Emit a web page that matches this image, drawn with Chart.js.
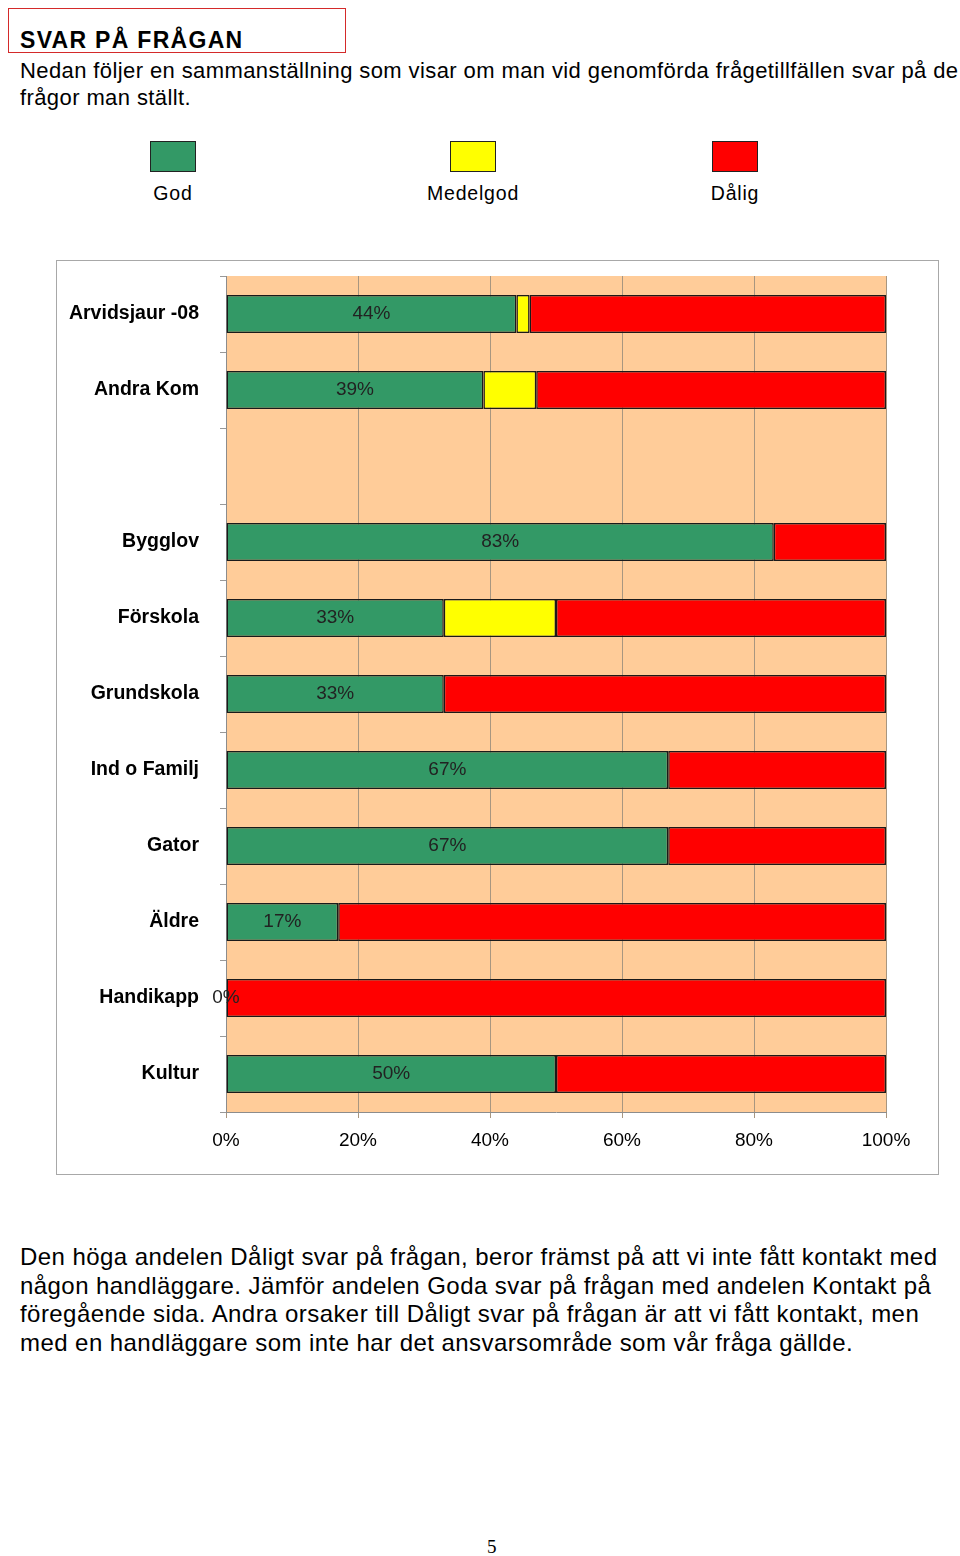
<!DOCTYPE html>
<html>
<head>
<meta charset="utf-8">
<script src="https://cdn.jsdelivr.net/npm/chart.js@4"></script>
<style>
  body { margin: 0; width: 960px; height: 1556px; background: #fff; font-family: "Liberation Sans", Arial, sans-serif; color: #000; position: relative; }
  .abs { position: absolute; white-space: nowrap; }
  #titlebox { left: 8px; top: 8px; width: 336px; height: 43px; border: 1.5px solid #d42a2a; }
  #title { left: 20px; top: 27px; font-size: 23px; font-weight: bold; letter-spacing: 1.3px; }
  .txt { font-size: 22px; line-height: 27px; letter-spacing: 0.4px; }
  .legsq { width: 44px; height: 29px; border: 1px solid #222; }
  .leglab { font-size: 19.5px; letter-spacing: 0.8px; transform: translateX(-50%); }
  #box { left: 56px; top: 260px; width: 881px; height: 913px; border: 1px solid #a8a8a8; }
  #page { left: 487px; top: 1536px; font-family: "Liberation Serif", serif; font-size: 19px; }
</style>
</head>
<body>
<div class="abs" id="titlebox"></div>
<div class="abs" id="title">SVAR PÅ FRÅGAN</div>
<div class="abs txt" style="left:20px; top:57px;">Nedan följer en sammanställning som visar om man vid genomförda frågetillfällen svar på de<br>frågor man ställt.</div>
<div id="legend"></div>
<div class="abs" id="box"><canvas id="c" width="881" height="913"></canvas></div>
<div class="abs txt" style="left:20px; top:1243px; font-size:24px; line-height:28.7px; letter-spacing:0.44px;">Den höga andelen Dåligt svar på frågan, beror främst på att vi inte fått kontakt med<br>någon handläggare. Jämför andelen Goda svar på frågan med andelen Kontakt på<br>föregående sida. Andra orsaker till Dåligt svar på frågan är att vi fått kontakt, men<br>med en handläggare som inte har det ansvarsområde som vår fråga gällde.</div>
<div class="abs" id="page">5</div>
<script>
var categories = ["Arvidsjaur -08", "Andra Kom", "", "Bygglov", "Förskola", "Grundskola", "Ind o Familj", "Gator", "Äldre", "Handikapp", "Kultur"];
var seriesNames = ["God", "Medelgod", "Dålig"];
var seriesColors = ["#339966", "#ffff00", "#ff0000"];
var god      = [44, 39, null, 83, 33, 33, 67, 67, 17, 0, 50];
var medelgod = [2, 8, null, null, 17, null, null, null, null, null, null];
var dalig    = [54, 53, null, 17, 50, 67, 33, 33, 83, 100, 50];
var xTicks = [0, 20, 40, 60, 80, 100];

// legend above the chart box (html)
var legX = [150, 450, 712];
var leg = document.getElementById('legend');
seriesNames.forEach(function (n, i) {
  var sq = document.createElement('div');
  sq.className = 'abs legsq';
  sq.style.left = legX[i] + 'px';
  sq.style.top = '141px';
  sq.style.background = seriesColors[i];
  leg.appendChild(sq);
  var lb = document.createElement('div');
  lb.className = 'abs leglab';
  lb.style.left = (legX[i] + 23) + 'px';
  lb.style.top = '182px';
  lb.textContent = n;
  leg.appendChild(lb);
});

var plotBg = {
  id: 'plotBg',
  beforeDraw: function (chart) {
    var a = chart.chartArea, ctx = chart.ctx;
    ctx.save();
    ctx.fillStyle = '#ffcc99';
    ctx.fillRect(a.left, a.top, a.right - a.left, a.bottom - a.top);
    ctx.restore();
  }
};

var godLabels = {
  id: 'godLabels',
  afterDatasetsDraw: function (chart) {
    var ctx = chart.ctx;
    var meta = chart.getDatasetMeta(0);
    ctx.save();
    ctx.font = '19px "Liberation Sans", Arial, sans-serif';
    ctx.fillStyle = '#222';
    ctx.textAlign = 'center';
    ctx.textBaseline = 'middle';
    meta.data.forEach(function (el, i) {
      if (god[i] === null) return;
      ctx.fillText(Math.round(god[i]) + '%', (el.x + el.base) / 2, el.y);
    });
    ctx.restore();
  }
};

var datasets = [god, medelgod, dalig].map(function (d, i) {
  return {
    label: seriesNames[i],
    data: d,
    backgroundColor: seriesColors[i],
    borderColor: '#1a1a1a',
    borderWidth: 1.5,
    borderSkipped: false,
    barPercentage: 0.5,
    categoryPercentage: 1.0
  };
});

new Chart(document.getElementById('c'), {
  type: 'bar',
  data: { labels: categories, datasets: datasets },
  plugins: [plotBg, godLabels],
  options: {
    indexAxis: 'y',
    responsive: false,
    animation: false,
    layout: { padding: { left: 0, right: 52, top: 15, bottom: 0 } },
    plugins: { legend: { display: false }, tooltip: { enabled: false } },
    scales: {
      x: {
        stacked: true,
        min: 0,
        max: 100,
        afterBuildTicks: function (s) { s.ticks = xTicks.map(function (v) { return { value: v }; }); },
        afterFit: function (s) { s.height = 62; },
        ticks: {
          callback: function (v) { return v + '%'; },
          color: '#000',
          font: { family: '"Liberation Sans", Arial, sans-serif', size: 19 },
          padding: 11,
          maxRotation: 0
        },
        grid: { color: '#a89680', lineWidth: 1, tickLength: 6, drawTicks: true },
        border: { display: true, color: '#8c8c8c' }
      },
      y: {
        stacked: true,
        afterFit: function (s) { s.width = 169; s.paddingTop = 0; s.paddingBottom = 0; },
        ticks: {
          color: '#000',
          font: { family: '"Liberation Sans", Arial, sans-serif', size: 19.5, weight: 'bold' },
          padding: 21
        },
        grid: { drawOnChartArea: false, offset: true, color: '#999', tickLength: 6 },
        border: { display: true, color: '#8c8c8c' }
      }
    }
  }
});
</script>
</body>
</html>
